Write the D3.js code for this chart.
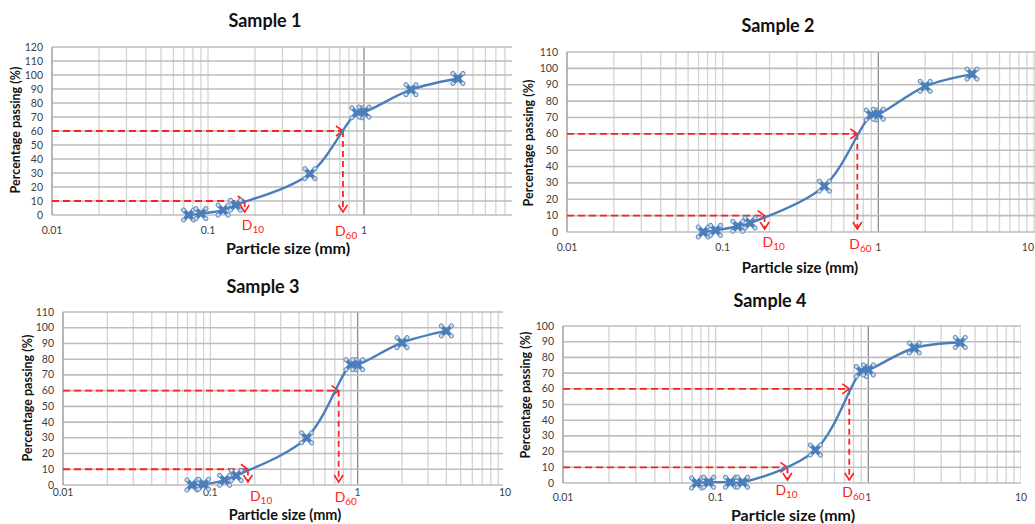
<!DOCTYPE html>
<html>
<head>
<meta charset="utf-8">
<script src="https://cdn.jsdelivr.net/npm/d3@7"></script>
<style>
  body { margin: 0; background: #fff; }
  svg { display: block; }
</style>
</head>
<body>
<svg id="chart"></svg>
<script>
// sieve sizes (mm) shared by all four samples
var sieveSizes = [0.075, 0.09, 0.125, 0.15, 0.45, 0.9, 1.0, 2.0, 4.0];

// percentage passing per sample
var sample1 = [0, 1, 3.5, 7, 29.5, 73, 73.5, 89.5, 97.5];
var sample2 = [0, 1, 3.5, 5.5, 28, 71.5, 72, 89, 96.5];
var sample3 = [0, 0.5, 3, 6, 30, 76.5, 76.5, 90.5, 98];
var sample4 = [0, 0.5, 0.5, 0.5, 21, 71, 72, 86, 89.5];

var titles = ["Sample 1", "Sample 2", "Sample 3", "Sample 4"];
var d10Values = [0.172, 0.186, 0.18, 0.295];
var d60Values = [0.733, 0.733, 0.743, 0.75];
var yMaxes = [120, 110, 110, 100];
var xTickValues = [0.01, 0.1, 1, 10];
var xTickLabels = ["0.01", "0.1", "1", "10"];

var W = 1035, H = 524;
var font = "Lato, 'Open Sans', sans-serif";
var blue = "#4a7ebb";
var red = "#ff2020";

var svg = d3.select("#chart").attr("width", W).attr("height", H);

// layout of the four panels (pixels)
var panels = [
  {values: sample1, left: 52, clipRight: 512, x10: 520, top: 47, bottom: 215,
   titleX: 265, titleY: 27, xtX: 288, xtY: 254, xtSize: 16, ytX: 15, ytY: 130,
   tickDy: 19, d10dx: -3, d10y: 230, d60dx: -8, d60y: 236},
  {values: sample2, left: 567, clipRight: 1035, x10: 1034, top: 52, bottom: 232,
   titleX: 778, titleY: 32, xtX: 800, xtY: 273, xtSize: 15, ytX: 528, ytY: 143,
   tickDy: 19, d10dx: -2, d10y: 247, d60dx: -8, d60y: 249},
  {values: sample3, left: 63, clipRight: 503, x10: 505, top: 312, bottom: 485,
   titleX: 263, titleY: 293, xtX: 285, xtY: 520, xtSize: 14.5, ytX: 27, ytY: 398,
   tickDy: 11, d10dx: 2, d10y: 501, d60dx: -4, d60y: 502},
  {values: sample4, left: 563, clipRight: 1021, x10: 1021, top: 326, bottom: 483,
   titleX: 770, titleY: 307, xtX: 793, xtY: 521, xtSize: 16, ytX: 525, ytY: 395,
   tickDy: 18, d10dx: -12, d10y: 495, d60dx: -7, d60y: 497}
];

// minor grid positions on the log axis
var gridX = [];
[0.01, 0.1, 1].forEach(function(base) {
  for (var k = 1; k <= 9; k++) gridX.push(base * k);
});
gridX.push(10);

function drawPanel(p, i) {
  var g = svg.append("g");
  var x = d3.scaleLog().domain([0.01, 10]).range([p.left, p.x10]);
  var y = d3.scaleLinear().domain([0, yMaxes[i]]).range([p.bottom, p.top]);

  var clipId = "clip" + i;
  svg.append("clipPath").attr("id", clipId)
    .append("rect").attr("x", p.left - 1).attr("y", p.top - 10)
    .attr("width", p.clipRight - p.left + 1).attr("height", p.bottom - p.top + 30);

  var grid = g.append("g").attr("clip-path", "url(#" + clipId + ")");

  // vertical grid
  grid.selectAll("line.v").data(gridX).enter().append("line")
    .attr("x1", function(d) { return x(d); })
    .attr("x2", function(d) { return x(d); })
    .attr("y1", p.top).attr("y2", p.bottom)
    .attr("stroke", function(d) { return Math.abs(d - 1) < 1e-9 ? "#8c8c8c" : "#d4d4d4"; })
    .attr("stroke-width", 1.3);

  // horizontal grid
  grid.selectAll("line.h").data(d3.range(0, yMaxes[i] + 1, 10)).enter().append("line")
    .attr("x1", p.left).attr("x2", p.clipRight)
    .attr("y1", function(d) { return y(d); })
    .attr("y2", function(d) { return y(d); })
    .attr("stroke", "#bdbdbd")
    .attr("stroke-width", 1.6);

  // left axis line
  g.append("line").attr("x1", p.left).attr("x2", p.left)
    .attr("y1", p.top).attr("y2", p.bottom)
    .attr("stroke", "#9a9a9a").attr("stroke-width", 1.2);

  // y tick labels
  g.selectAll("text.yt").data(d3.range(0, yMaxes[i] + 1, 10)).enter().append("text")
    .attr("x", p.left - 9)
    .attr("y", function(d) { return y(d) + 3.5; })
    .attr("text-anchor", "end")
    .attr("font-family", font).attr("font-size", 10.5).attr("fill", "#404040")
    .text(function(d) { return d; });

  // x tick labels (only those inside the visible panel)
  var shown = xTickValues.filter(function(d) { return x(d) <= p.clipRight + 3; });
  g.selectAll("text.xt").data(shown).enter().append("text")
    .attr("x", function(d) { return Math.min(x(d), W - 1); })
    .attr("y", p.bottom + p.tickDy)
    .attr("text-anchor", function(d) { return x(d) > W - 8 ? "end" : "middle"; })
    .attr("font-family", font).attr("font-size", 10.5).attr("fill", "#404040")
    .text(function(d) { return xTickLabels[xTickValues.indexOf(d)]; });

  // title
  g.append("text").attr("x", p.titleX).attr("y", p.titleY)
    .attr("text-anchor", "middle")
    .attr("font-family", font).attr("font-weight", "bold").attr("font-size", 18)
    .attr("fill", "#111").text(titles[i]);

  // axis titles
  g.append("text").attr("x", p.xtX).attr("y", p.xtY)
    .attr("text-anchor", "middle")
    .attr("font-family", font).attr("font-weight", "bold").attr("font-size", p.xtSize)
    .attr("fill", "#111").text("Particle size (mm)");

  g.append("text")
    .attr("transform", "translate(" + p.ytX + "," + p.ytY + ") rotate(-90)")
    .attr("text-anchor", "middle").attr("dominant-baseline", "central")
    .attr("font-family", font).attr("font-weight", "bold").attr("font-size", 12.5)
    .attr("fill", "#111").text("Percentage passing (%)");

  // D10 / D60 guides
  var guides = [
    {d: d10Values[i], pct: 10, sub: "10", dx: p.d10dx, ly: p.d10y},
    {d: d60Values[i], pct: 60, sub: "60", dx: p.d60dx, ly: p.d60y}
  ];
  guides.forEach(function(gd) {
    var gx = x(gd.d), gy = y(gd.pct), by = y(0) - 3;
    g.append("line").attr("x1", p.left).attr("x2", gx - 1)
      .attr("y1", gy).attr("y2", gy)
      .attr("stroke", red).attr("stroke-width", 1.8).attr("stroke-dasharray", "7,4");
    g.append("path").attr("d", "M" + (gx - 7) + "," + (gy - 5) + "L" + gx + "," + gy + "L" + (gx - 7) + "," + (gy + 5))
      .attr("fill", "none").attr("stroke", red).attr("stroke-width", 1.6);
    g.append("line").attr("x1", gx).attr("x2", gx)
      .attr("y1", gy).attr("y2", by)
      .attr("stroke", red).attr("stroke-width", 1.8).attr("stroke-dasharray", "6,4");
    g.append("path").attr("d", "M" + (gx - 4.5) + "," + (by - 7) + "L" + gx + "," + by + "L" + (gx + 4.5) + "," + (by - 7))
      .attr("fill", "none").attr("stroke", red).attr("stroke-width", 1.6);
    var t = g.append("text").attr("x", gx + gd.dx).attr("y", gd.ly)
      .attr("font-family", font).attr("font-size", 14).attr("fill", red);
    t.append("tspan").text("D");
    t.append("tspan").attr("font-size", 10).attr("dy", 3).text(gd.sub);
  });

  // smoothed gradation curve
  var pts = sieveSizes.map(function(s, j) { return [x(s), y(p.values[j])]; });
  var line = d3.line().curve(d3.curveCatmullRom.alpha(0.5));
  g.append("path").attr("d", line(pts))
    .attr("fill", "none").attr("stroke", blue).attr("stroke-width", 2.4);

  // markers
  var m = g.selectAll("g.mk").data(pts).enter().append("g")
    .attr("transform", function(d) { return "translate(" + d[0] + "," + d[1] + ")"; });
  m.append("path").attr("d", "M-4,-4L4,4M-4,4L4,-4")
    .attr("stroke", blue).attr("stroke-width", 4);
  m.append("circle").attr("r", 2.5).attr("fill", blue);
  m.selectAll("circle.h").data([[-5, -5], [5, -5], [-5, 5], [5, 5]]).enter()
    .append("circle")
    .attr("cx", function(d) { return d[0]; }).attr("cy", function(d) { return d[1]; })
    .attr("r", 2.1).attr("fill", "#c9dbef").attr("stroke", "#5a86b8").attr("stroke-width", 1);
}

panels.forEach(drawPanel);
</script>
</body>
</html>
